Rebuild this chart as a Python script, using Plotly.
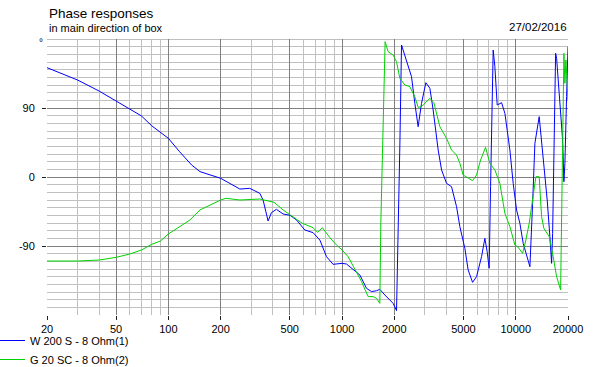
import math
import plotly.graph_objects as go

# ---- data ----
freq_w200 = [20, 25, 30, 40, 50, 60, 70, 80, 90, 100, 116, 136, 152, 200, 258, 294, 336, 351, 375, 392,
             419, 458, 502, 547, 610, 681, 745, 814, 888, 971, 1001, 1061, 1134, 1266, 1383, 1478, 1580,
             1650, 1764, 1968, 2059, 2086, 2122, 2152, 2200, 2352, 2512, 2625, 2742, 2868, 3038, 3204,
             3346, 3576, 3742, 3997, 4270, 4563, 4769, 5094, 5323, 5643, 5950, 6358, 6643, 6848, 7032,
             7164, 7290, 7417, 7586, 7822, 8292, 8664, 9256, 9670, 10116, 10568, 11042, 11552, 12068,
             12510, 12896, 13652, 14394, 15180, 15732, 16092, 16308, 16592, 16970, 17196, 17564, 18134,
             18622, 18946, 19196, 19630, 20000]
phase_w200 = [142.6, 134, 126.5, 112, 99.5, 88.7, 79.6, 67, 57.8, 50.4, 33, 15.7, 7, -1.7, -15.7, -14.8,
              -21.3, -30, -57.4, -46.5, -42.2, -48.3, -50, -56.1, -69.1, -72.6, -82.2, -103.9, -113.9,
              -112.6, -112.6, -113.5, -119, -127.8, -145.2, -149.5, -148.3, -146.5, -153.9, -164.8,
              -174.3, -119, -45.2, 41.7, 172.2, 152.6, 130.8, 96.1, 65.6, 96.1, 123, 115.7, 87.4, 35.2,
              9.1, -8.3, -12.6, -38.7, -64.8, -93, -121.3, -137.4, -130, -103.9, -80, -97.4, -119,
              -12.6, 61.3, 165.6, 143.9, 93.9, 96.9, 83, 35.2, -8.3, -43, -60.4, -86.5, -101.7, -117,
              -34.3, 44, 78.7, 26.5, -30, -77.8, -112.6, -73.5, 61.3, 161.3, 154.8, 126.5, 87.4, 48.3,
              -6.1, 17.9, 104.8, 170]

freq_g20 = [20, 30, 40, 50, 60, 70, 80, 90, 100, 116, 133, 152, 200, 215, 258, 336, 406, 458, 502, 590,
            681, 722, 770, 850, 929, 1001, 1084, 1185, 1295, 1413, 1510, 1580, 1650, 1672, 1701, 1740,
            1770, 1842, 1968, 2059, 2152, 2300, 2456, 2625, 2742, 2868, 3204, 3378, 3658, 3997, 4270,
            4563, 4769, 4980, 5323, 5643, 5950, 6274, 6704, 7098, 7586, 8106, 8664, 9256, 9890, 10332,
            10952, 11444, 11956, 12510, 12728, 13068, 13652, 14092, 14528, 15588, 16436, 17196, 18134,
            18374, 18622, 18946, 19196, 19450, 20000]
phase_g20 = [-109.6, -109.6, -108.3, -104.8, -100.4, -95.2, -87.9, -83.5, -74.3, -64.8, -56.1, -43, -30,
             -27.8, -30, -28.7, -33, -43, -49.6, -60.4, -66.1, -72.2, -66.1, -79, -88.7, -95.2, -104,
             -121.3, -136.5, -156, -156, -158.3, -164.8, -60.4, 4.8, 126.5, 176.5, 163.4, 159.1, 150.4,
             128.7, 120, 117.8, 104.7, 90.9, 91.7, 102.7, 96.9, 65.6, 50.4, 35.2, 28.7, 17.9, 2.6, -1.7,
             -4.8, 2.6, 22.2, 38.7, 17.9, 9.1, -8.3, -47.4, -64.8, -88.7, -91.7, -99.6, -82.2, -60.4,
             -30, -17, 0.4, 0.4, -51.7, -67, -77.8, -104, -130, -147.4, -30, 48.3, 161.3, 122.2, 152.6,
             100.4]

series_names = ["W 200 S - 8 Ohm(1)", "G 20 SC - 8 Ohm(2)"]
x_tickvals = [20, 50, 100, 200, 500, 1000, 2000, 5000, 10000, 20000]
x_ticktext = ["20", "50", "100", "200", "500", "1000", "2000", "5000", "10000", "20000"]
x_minor = [30, 40, 60, 70, 80, 90, 300, 400, 600, 700, 800, 900, 3000, 4000, 6000, 7000, 8000, 9000]
y_tickvals = [-90, 0, 90]
y_ticktext = ["-90", "0", "90"]
y_minor = [v for v in range(-170, 180, 10) if v not in (-90, 0, 90)]

FONT = "Liberation Sans, Arial, sans-serif"

fig = go.Figure()
fig.add_trace(go.Scatter(x=freq_w200, y=phase_w200, mode="lines", name=series_names[0],
                         line=dict(color="#0000ff", width=1)))
fig.add_trace(go.Scatter(x=freq_g20, y=phase_g20, mode="lines", name=series_names[1],
                         line=dict(color="#00d200", width=1)))

def px_x(px):
    return (px - 47) / 521

def px_y(py):
    return (315 - py) / 276

fig.update_layout(
    width=607, height=367,
    margin=dict(l=47, r=39, t=39, b=52, pad=0, autoexpand=False),
    paper_bgcolor="white", plot_bgcolor="white",
    font=dict(family=FONT, size=11, color="black"),
    showlegend=True,
    legend=dict(x=px_x(-10), y=px_y(326), xanchor="left", yanchor="top",
                bgcolor="rgba(0,0,0,0)", borderwidth=0, font=dict(size=11, family=FONT),
                tracegroupgap=0),
    xaxis=dict(type="log", range=[math.log10(20), math.log10(20000)],
               tickmode="array", tickvals=x_tickvals, ticktext=x_ticktext,
               ticks="outside", ticklen=4, tickcolor="#202020", tickwidth=1,
               showgrid=True, gridcolor="#808080", gridwidth=1,
               minor=dict(tickmode="array", tickvals=x_minor, showgrid=True,
                          gridcolor="#c0c0c0", gridwidth=1, ticks=""),
               zeroline=False, showline=False, tickfont=dict(size=11, family=FONT)),
    yaxis=dict(range=[-180, 180], tickmode="array", tickvals=y_tickvals, ticktext=y_ticktext,
               ticks="outside", ticklen=4, tickcolor="#202020", tickwidth=1, ticklabelstandoff=5,
               showgrid=True, gridcolor="#808080", gridwidth=1,
               minor=dict(tickmode="array", tickvals=y_minor, showgrid=True,
                          gridcolor="#c0c0c0", gridwidth=1, ticks=""),
               zeroline=False, showline=False, tickfont=dict(size=11, family=FONT)),
)

# top border line at +180 deg
fig.add_shape(type="line", xref="paper", yref="y", x0=0, x1=1, y0=180, y1=180,
              line=dict(color="#808080", width=1), layer="below")

fig.add_annotation(text="Phase responses", x=px_x(47), y=px_y(13), xref="paper", yref="paper",
                   xanchor="left", yanchor="middle", showarrow=False,
                   font=dict(size=13.5, family=FONT, color="black"))
fig.add_annotation(text="in main direction of box", x=px_x(47), y=px_y(28), xref="paper", yref="paper",
                   xanchor="left", yanchor="middle", showarrow=False,
                   font=dict(size=11, family=FONT, color="black"))
fig.add_annotation(text="27/02/2016", x=px_x(569), y=px_y(27), xref="paper", yref="paper",
                   xanchor="right", yanchor="middle", showarrow=False,
                   font=dict(size=11.5, family=FONT, color="black"))
fig.add_annotation(text="°", x=px_x(41), y=px_y(42), xref="paper", yref="paper",
                   xanchor="center", yanchor="middle", showarrow=False,
                   font=dict(size=10, family=FONT, color="black"))

fig.write_html("out.html")
